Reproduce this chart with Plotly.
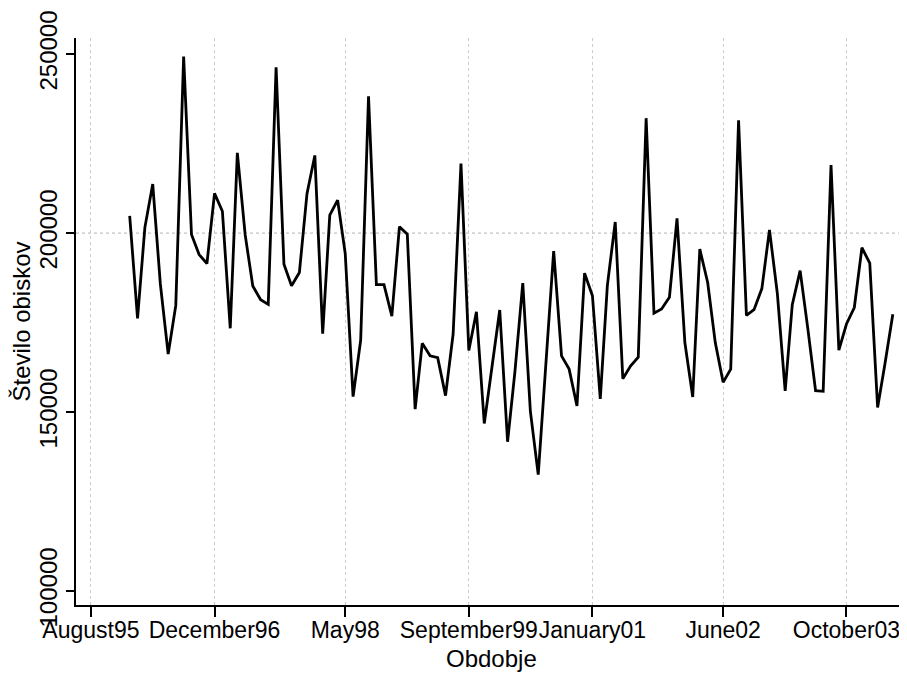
import pandas as pd
import plotly.graph_objects as go

# Monthly observations, January 1996 - April 2004
months = pd.date_range("1996-01-01", periods=100, freq="MS")

visits = [
    204800, 176200, 201600, 213700, 185800, 166200, 179800, 249300, 199600, 194000, 191500, 211100,
    206100, 173400, 222400, 199500, 185200, 181400, 180100, 246300, 191300, 185300, 189000, 211000,
    221700, 171900, 205000, 209200, 194300, 154300, 170100, 238200, 185600, 185600, 176800, 201800,
    199700, 150800, 169200, 165700, 165200, 154600, 171800, 219400, 167200, 178000, 146800, 162300,
    178500, 141700, 161300, 186000, 150200, 132500, 163300, 195000, 165700, 162000, 151700, 188800,
    182500, 153700, 185400, 203100, 159300, 162900, 165300, 232100, 177600, 178800, 182100, 204100,
    169400, 154200, 195500, 186200, 169400, 158300, 162000, 231500, 177000, 178600, 184500, 200900,
    183200, 155900, 180000, 189500, 173500, 156000, 155800, 219000, 167300, 174600, 179200, 195900,
    191600, 151300, 163500, 177300,
]

x_tick_dates = ["1995-08-01", "1996-12-01", "1998-05-01", "1999-09-01",
                "2001-01-01", "2002-06-01", "2003-10-01"]
x_tick_labels = ["August95", "December96", "May98", "September99",
                 "January01", "June02", "October03"]
y_ticks = [100000, 150000, 200000, 250000]
y_grid_value = 200000

x_title = "Obdobje"
y_title = "Število obiskov"

x_range = ["1995-06-03", "2004-05-27"]
y_range = [96100, 254500]

fig = go.Figure()
fig.add_trace(go.Scatter(
    x=months, y=visits, mode="lines",
    line=dict(color="black", width=2.8),
    showlegend=False,
))

fig.add_hline(y=y_grid_value, line=dict(color="#b4b4b4", width=1, dash="dot"), layer="below")

font_family = "Liberation Sans, Arial, Helvetica, sans-serif"

# page body has an 8px default margin, so the figure is sized to fit the window
fig.update_layout(
    width=899, height=669,
    margin=dict(l=68, r=0, t=30, b=72),
    plot_bgcolor="white", paper_bgcolor="white",
    font=dict(family=font_family, size=24, color="black"),
    showlegend=False,
)

fig.add_annotation(
    text=x_title, xref="paper", yref="paper", x=0.5, y=0, yshift=-53,
    yanchor="middle", xanchor="center", showarrow=False,
    font=dict(size=24, color="black"),
)

fig.update_xaxes(
    type="date", range=x_range,
    tickmode="array", tickvals=x_tick_dates, ticktext=x_tick_labels,
    tickangle=0,
    ticks="outside", ticklen=10, tickwidth=1.5, tickcolor="black",
    ticklabelstandoff=-6,
    showline=True, linecolor="black", linewidth=1.5,
    showgrid=True, gridcolor="#cccccc", gridwidth=1, griddash="dot",
    zeroline=False,
    tickfont=dict(size=23),
    automargin=False,
)

fig.update_yaxes(
    range=y_range,
    tickmode="array", tickvals=y_ticks, ticktext=[str(v) for v in y_ticks],
    tickangle=-90,
    ticks="outside", ticklen=8, tickwidth=1.5, tickcolor="black",
    showline=True, linecolor="black", linewidth=1.5,
    showgrid=False, zeroline=False,
    tickfont=dict(size=24),
    title=dict(text=y_title, font=dict(size=24), standoff=0),
    automargin=False,
)

fig.write_html("out.html")
